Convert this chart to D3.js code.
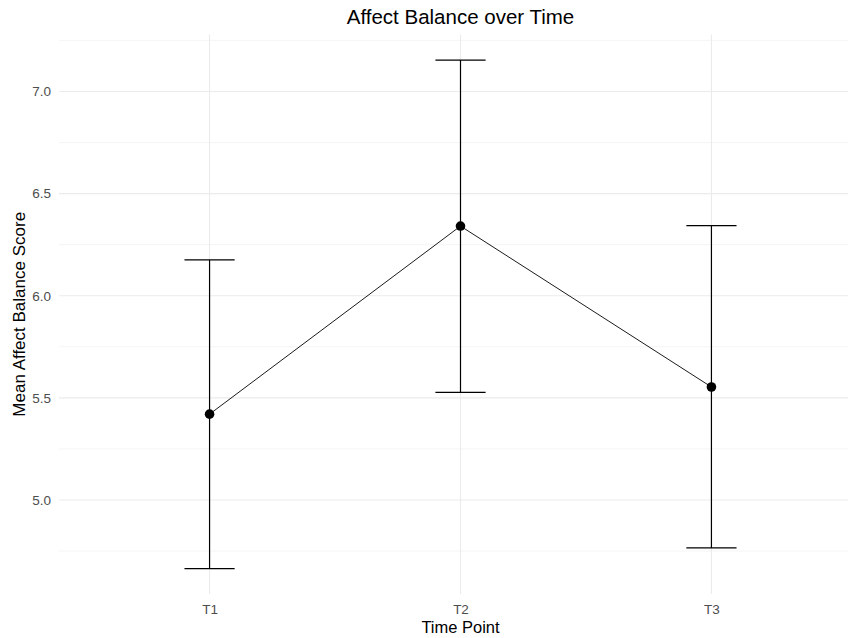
<!DOCTYPE html>
<html>
<head>
<meta charset="utf-8">
<script src="https://cdn.jsdelivr.net/npm/d3@7"></script>
<style>
  html, body { margin: 0; padding: 0; background: #ffffff; }
  svg { display: block; font-family: "Liberation Sans", Arial, sans-serif; }
</style>
</head>
<body>
<svg id="chart" width="848" height="638"></svg>
<script>
// Mean affect balance per time point, with error-bar limits
const timePoints = ["T1", "T2", "T3"];
const meanScores = [5.42, 6.341, 5.553];
const lowerLimits = [4.664, 5.527, 4.765];
const upperLimits = [6.175, 7.154, 6.343];
const yMajorTicks = [5.0, 5.5, 6.0, 6.5, 7.0];
const yMinorTicks = [4.75, 5.25, 5.75, 6.25, 6.75, 7.25];

const data = timePoints.map((t, i) => ({
  t, mean: meanScores[i], lo: lowerLimits[i], hi: upperLimits[i]
}));

const svg = d3.select("#chart");
const panel = { left: 59, right: 862, top: 34.6, bottom: 594 };

// y domain padded by 5% of the data span on both sides
const yMin = d3.min(lowerLimits), yMax = d3.max(upperLimits);
const pad = (yMax - yMin) * 0.05;
const y = d3.scaleLinear().domain([yMin - pad, yMax + pad]).range([panel.bottom, panel.top]);
const x = d3.scalePoint().domain(timePoints).range([panel.left, panel.right]).padding(0.6);

// grid
const grid = svg.append("g");
grid.selectAll("line.minor").data(yMinorTicks).join("line")
  .attr("x1", panel.left).attr("x2", panel.right)
  .attr("y1", d => y(d)).attr("y2", d => y(d))
  .attr("stroke", "#f3f3f3").attr("stroke-width", 0.8);
grid.selectAll("line.major").data(yMajorTicks).join("line")
  .attr("x1", panel.left).attr("x2", panel.right)
  .attr("y1", d => y(d)).attr("y2", d => y(d))
  .attr("stroke", "#ebebeb").attr("stroke-width", 1.1);
grid.selectAll("line.vmajor").data(timePoints).join("line")
  .attr("x1", d => x(d)).attr("x2", d => x(d))
  .attr("y1", panel.top).attr("y2", panel.bottom)
  .attr("stroke", "#ebebeb").attr("stroke-width", 1.1);

// axes (labels only, no axis lines or ticks)
const yAxis = svg.append("g").attr("transform", `translate(${panel.left - 8},0)`)
  .call(d3.axisLeft(y).tickValues(yMajorTicks).tickFormat(d3.format(".1f")).tickSize(0).tickPadding(0));
yAxis.select(".domain").remove();
yAxis.selectAll("text").attr("fill", "#4d4d4d").attr("font-size", 13.5)
  .attr("font-family", "Liberation Sans, Arial, sans-serif");

const xAxis = svg.append("g").attr("transform", `translate(0,${panel.bottom + 6})`)
  .call(d3.axisBottom(x).tickSize(0).tickPadding(4));
xAxis.select(".domain").remove();
xAxis.selectAll("text").attr("fill", "#4d4d4d").attr("font-size", 13.5)
  .attr("font-family", "Liberation Sans, Arial, sans-serif");

// connecting line
svg.append("path").datum(data)
  .attr("fill", "none").attr("stroke", "#000").attr("stroke-width", 0.9)
  .attr("d", d3.line().x(d => x(d.t)).y(d => y(d.mean)));

// error bars
const capHalf = x.step() * 0.1;
const eb = svg.append("g").attr("stroke", "#000").attr("stroke-width", 1.2);
eb.selectAll("line.v").data(data).join("line")
  .attr("x1", d => x(d.t)).attr("x2", d => x(d.t))
  .attr("y1", d => y(d.lo)).attr("y2", d => y(d.hi));
eb.selectAll("line.top").data(data).join("line")
  .attr("x1", d => x(d.t) - capHalf).attr("x2", d => x(d.t) + capHalf)
  .attr("y1", d => y(d.hi)).attr("y2", d => y(d.hi));
eb.selectAll("line.bot").data(data).join("line")
  .attr("x1", d => x(d.t) - capHalf).attr("x2", d => x(d.t) + capHalf)
  .attr("y1", d => y(d.lo)).attr("y2", d => y(d.lo));

// points
svg.append("g").selectAll("circle").data(data).join("circle")
  .attr("cx", d => x(d.t)).attr("cy", d => y(d.mean)).attr("r", 4.8).attr("fill", "#000");

// titles
const cx = (panel.left + panel.right) / 2;
svg.append("text").attr("x", cx).attr("y", 24).attr("text-anchor", "middle")
  .attr("font-size", 20.5).attr("fill", "#000").text("Affect Balance over Time");
svg.append("text").attr("x", cx).attr("y", 633).attr("text-anchor", "middle")
  .attr("font-size", 16.5).attr("fill", "#000").text("Time Point");
svg.append("text")
  .attr("transform", `translate(25,${(panel.top + panel.bottom) / 2}) rotate(-90)`)
  .attr("text-anchor", "middle").attr("font-size", 17).attr("fill", "#000")
  .text("Mean Affect Balance Score");
</script>
</body>
</html>
